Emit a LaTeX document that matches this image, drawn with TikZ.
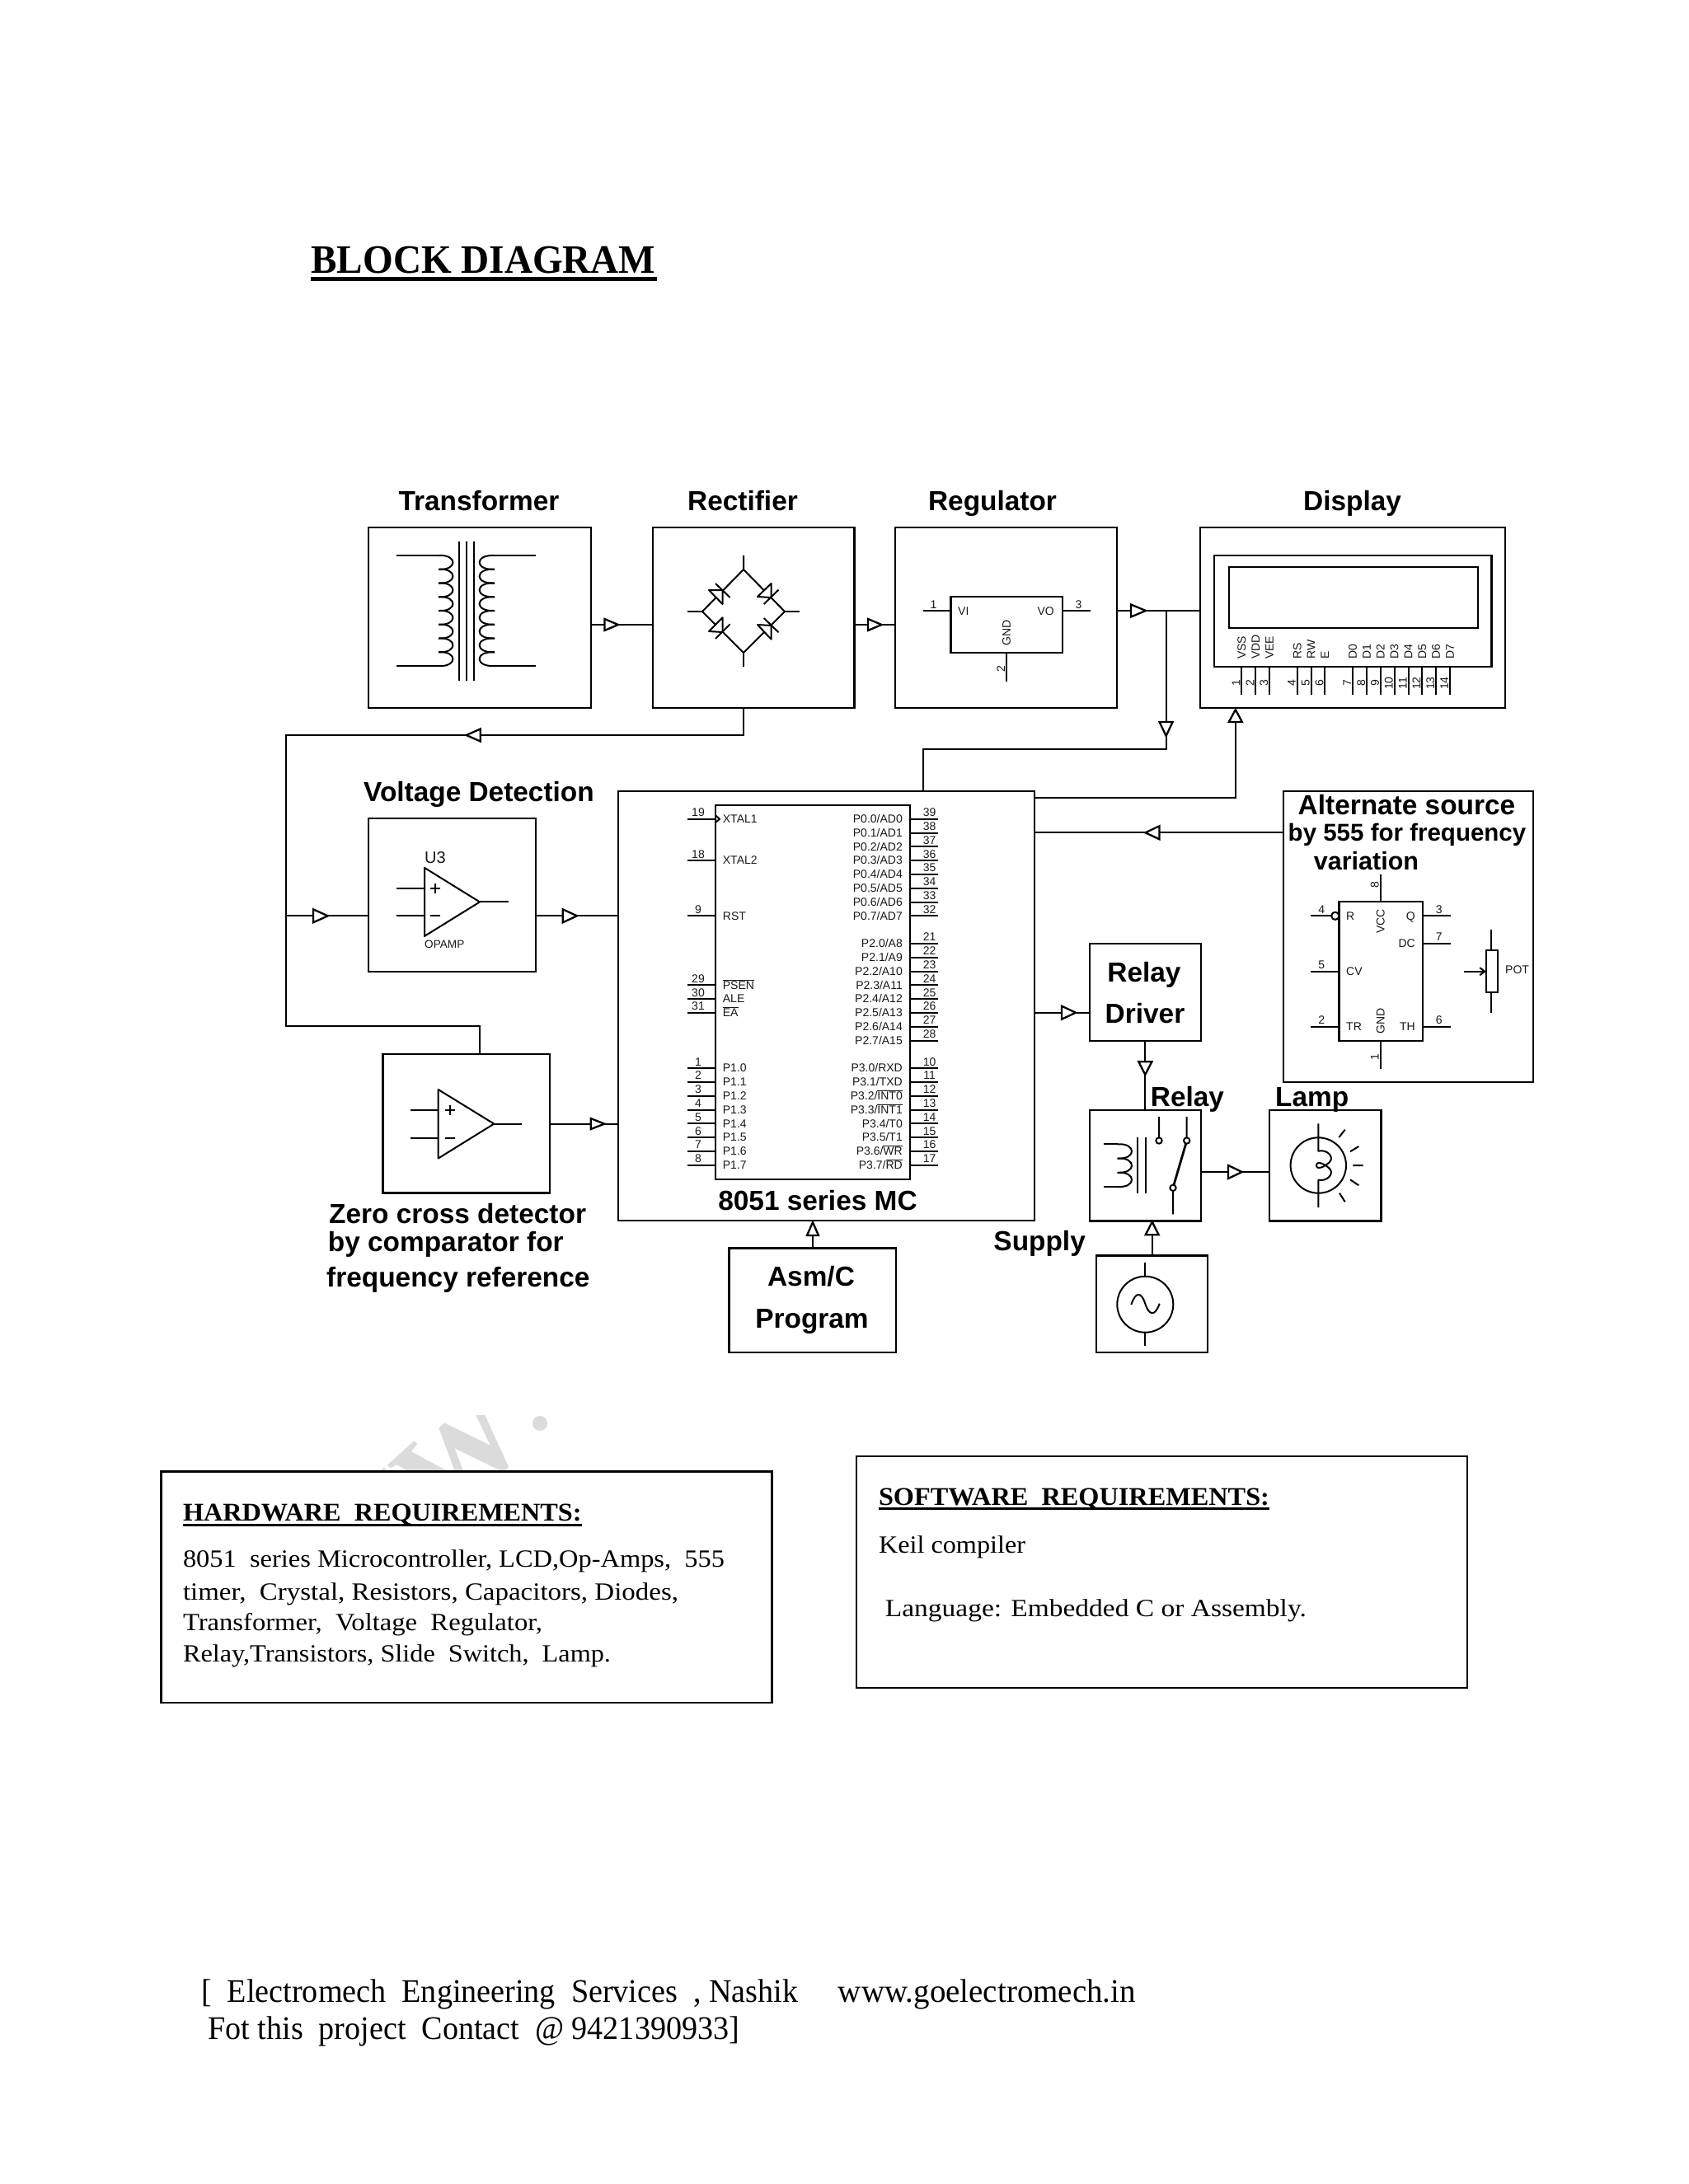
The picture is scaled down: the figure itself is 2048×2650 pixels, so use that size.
\documentclass[tikz,border=0pt]{standalone}
\usepackage{fontspec}
\usepackage{graphicx}
\usetikzlibrary{arrows.meta}
\setmainfont{Liberation Sans}
\newfontfamily\serifface{Liberation Serif}
\newcommand\fsz[1]{\fontsize{#1}{#1}\selectfont}
\newcommand\ovl[1]{$\overline{\hbox{#1}}$}
\newcommand\fitw[2]{\resizebox{#1pt}{\height}{#2}}
\newcommand\blk[5]{\node[blockbox,minimum width={(#4-#2)*1pt},minimum height={(#5-#3)*1pt},anchor=north west] (#1) at (#2,#3) {};}
\newcommand\htri[4]{\draw[marker] ({#1},{#3-#4}) -- ({#2},{#3}) -- ({#1},{#3+#4}) -- cycle;}
\newcommand\vtri[4]{\draw[marker] ({#1-#4},{#2}) -- ({#1},{#3}) -- ({#1+#4},{#2}) -- cycle;}
% coil of bumps: #1 cusp x, #2 control x, #3 top y, #4 pitch, #5 last index
\newcommand\coil[5]{\foreach \k in {0,...,#5}{\draw[thinl] (#1,{#3+#4*\k}) .. controls (#2,{#3+#4*\k-1.5}) and (#2,{#3+#4*(\k+1)+1.5}) .. (#1,{#3+#4*(\k+1)});}}
\tikzset{
  blockbox/.style={draw=black,line width=2.4pt,inner sep=0pt,outer sep=0pt,fill=none},
  chip/.style={draw=black,line width=2.2pt,inner sep=0pt,outer sep=0pt},
  conn/.style={draw=black,line width=2.2pt},
  thinl/.style={draw=black,line width=2pt,line join=round},
  marker/.style={draw=black,fill=white,line width=2.3pt,line join=miter},
  big/.style={font=\fsz{33.4}\bfseries,inner sep=0pt,anchor=base},
  pinl/.style={font=\fsz{14},inner sep=0pt,text=black!90},
  ser/.style={font=\serifface\fsz{30},inner sep=0pt,anchor=base west},
  serb/.style={font=\serifface\bfseries\fsz{31},inner sep=0pt,anchor=base west},
  foot/.style={font=\serifface\fsz{40},inner sep=0pt,anchor=base west},
}
\begin{document}
\begin{tikzpicture}[x=1pt,y=-1pt]
\useasboundingbox (0,0) rectangle (2048,2650);
\fill[white] (0,0) rectangle (2048,2650);

% title
\node[font=\serifface\bfseries\fsz{49},inner sep=0pt,anchor=base west] (title) at (377.3,331.7) {\fitw{418}{BLOCK DIAGRAM}};
\draw[line width=5pt] (377,338.7) -- (796.5,338.7);

% watermark (behind the hardware box)
\begin{scope}
\clip (420,1717) rectangle (670,1784);
\node[font=\serifface\bfseries\fsz{150},text=black!14,inner sep=0pt,rotate=42,anchor=base east] (wm) at (646,1752) {WW};
\fill[black!14] (655,1727) circle (9);
\end{scope}

% blocks
\blk{trans}{447}{640}{717}{859}
\blk{rect}{792}{640}{1036.5}{859}
\blk{reg}{1086}{640}{1355}{859}
\blk{disp}{1456}{640}{1826}{859}
\blk{vdet}{447}{993}{650}{1178.7}
\blk{zero}{464.3}{1278.8}{666.7}{1447.5}
\blk{mc}{750}{960}{1255}{1481}
\blk{alt}{1557}{960}{1860}{1312.7}
\blk{rdrv}{1321.7}{1144.7}{1456.7}{1262.7}
\blk{relay}{1321.7}{1346.7}{1456.7}{1481.3}
\blk{lamp}{1540}{1346.7}{1675.3}{1481.3}
\blk{supply}{1330}{1523.3}{1465}{1641}
\blk{asm}{884.3}{1514.3}{1086.7}{1641}

% block captions
\node[big] (lbtrans) at (581,619) {Transformer};
\node[big] (lbrect) at (901,619) {Rectifier};
\node[big] (lbreg) at (1204,619) {Regulator};
\node[big] (lbdisp) at (1640.6,619) {Display};
\node[big] (lbvdet) at (581,972.5) {Voltage Detection};
\node[big,anchor=base west] (lbz1) at (399,1484) {Zero cross detector};
\node[big,anchor=base west] (lbz2) at (397.7,1518.5) {by comparator for};
\node[big,anchor=base west] (lbz3) at (396,1561) {frequency reference};
\node[big] (lbmc) at (992,1468) {8051 series MC};
\node[big] (lbasm1) at (984,1560.7) {Asm/C};
\node[big] (lbasm2) at (985,1611.7) {Program};
\node[big,anchor=base east] (lbsup) at (1317,1517) {Supply};
\node[big] (lbdrv1) at (1388,1191) {Relay};
\node[big] (lbdrv2) at (1389,1241) {Driver};
\node[big,anchor=base west] (lbrel) at (1395.7,1342) {Relay};
\node[big,anchor=base west] (lblamp) at (1547,1342) {Lamp};
\node[big] (lbalt1) at (1706.5,988) {Alternate source};
\node[big,font=\fsz{29.5}\bfseries] (lbalt2) at (1707,1020.7) {by 555 for frequency};
\node[big,font=\fsz{30.5}\bfseries] (lbalt3) at (1657.5,1055) {variation};

% connectors
\coordinate (ya) at (0,758);
\coordinate (yb) at (0,741);
\coordinate (ret) at (901.7,892);
\coordinate (retl) at (346.7,892);
\coordinate (rets) at (346.7,1245.3);
\coordinate (retz) at (582.3,1245.3);
\coordinate (yv) at (0,1111.3);
\coordinate (yz) at (0,1363.6);
\coordinate (tap) at (1414.6,741);
\coordinate (tapb) at (1414.6,909);
\coordinate (mct) at (1120,909);
\coordinate (lcdl) at (1498.8,968.3);
\draw[conn] (trans.east |- ya) -- (rect.west |- ya);
\draw[conn] (rect.east |- ya) -- (reg.west |- ya);
\draw[conn] (reg.east |- yb) -- (disp.west |- yb);
\draw[conn] (tap) -- (tapb) -- (mct) -- (mct |- mc.north);
\draw[conn] (mc.east |- lcdl) -- (lcdl) -- (lcdl |- disp.south);
\draw[conn] (rect.south -| ret) -- (ret) -- (retl) -- (rets) -- (retz) -- (retz |- zero.north);
\draw[conn] (retl |- yv) -- (vdet.west |- yv);
\draw[conn] (vdet.east |- yv) -- (mc.west |- yv);
\draw[conn,line width=2pt] (zero.east |- yz) -- (mc.west |- yz);
\coordinate (ya1) at (0,1010.3);
\draw[conn] (alt.west |- ya1) -- (mc.east |- ya1);
\coordinate (yr) at (0,1228.7);
\draw[conn] (mc.east |- yr) -- (rdrv.west |- yr);
\coordinate (xr) at (1389.3,0);
\draw[conn] (rdrv.south -| xr) -- (relay.north -| xr);
\coordinate (yl) at (0,1422);
\draw[conn] (relay.east |- yl) -- (lamp.west |- yl);
\coordinate (xs) at (1397.7,0);
\draw[conn] (supply.north -| xs) -- (relay.south -| xs);
\coordinate (xa) at (986,0);
\draw[conn] (asm.north -| xa) -- (mc.south -| xa);

% arrow markers
\htri{733.4}{750}{758}{7}
\htri{1053}{1069.5}{758}{7}
\htri{1372}{1390}{741}{7.5}
\vtri{1414.6}{876}{893}{8}
\vtri{1498.8}{876}{861}{8}
\htri{582.7}{565.7}{892}{7.5}
\htri{380}{397.7}{1111.3}{8}
\htri{682.7}{700}{1111.3}{8}
\htri{716.7}{733.3}{1363.6}{6.5}
\htri{1406.5}{1389.4}{1010.3}{8}
\htri{1288}{1305}{1228.7}{8}
\vtri{1389.3}{1288.3}{1304}{8}
\htri{1490}{1506.7}{1422}{8}
\vtri{1397.7}{1498.3}{1482.5}{8}
\vtri{986}{1499}{1483}{7}

% transformer
\coil{532}{555.3}{674}{16.75}{7}
\coil{600}{575.5}{674}{16.75}{7}
\draw[thinl] (481,674) -- (532,674) (481,808) -- (532,808) (600,674) -- (650,674) (600,808) -- (650,808);
\draw[thinl] (557,657) -- (557,826) (565.5,657) -- (565.5,826) (574.5,657) -- (574.5,826);

% bridge rectifier
\draw[thinl] (902,674) -- (902,691) -- (952,742) -- (902,792) -- (852,742) -- (902,691);
\draw[thinl] (902,792) -- (902,809) (834,742) -- (852,742) (952,742) -- (969.5,742);
\draw[thinl,fill=white] (860,716) -- (876.5,733) -- (876.5,716) -- cycle;
\draw[thinl] (868,708) -- (885.6,725);
\draw[thinl,fill=white] (919,724) -- (935.6,708) -- (935.6,725) -- cycle;
\draw[thinl] (926.7,733) -- (944.5,715.6);
\draw[thinl,fill=white] (860,766) -- (876.5,749.3) -- (876.5,767) -- cycle;
\draw[thinl] (868,775) -- (885.6,757.3);
\draw[thinl,fill=white] (919,758) -- (935.6,775.7) -- (935.6,759) -- cycle;
\draw[thinl] (926.7,750) -- (944.5,767.3);

% regulator chip
\node[chip,minimum width=135.2pt,minimum height=68pt,anchor=north west] (lm) at (1153.4,724) {};
\draw[thinl] (lm.west |- yb) -- (1120,741) (lm.east |- yb) -- (1323,741);
\draw[thinl] (1221,792) -- (1221,826.7);
\node[pinl,anchor=base] (lm1) at (1132.4,738) {1};
\node[pinl,anchor=base] (lm3) at (1308.5,738) {3};
\node[pinl,anchor=base,rotate=90] (lm2) at (1219,812) {2};
\node[pinl,anchor=base west] (lmvi) at (1162,746) {VI};
\node[pinl,anchor=base east] (lmvo) at (1279,746) {VO};
\node[pinl,anchor=base,rotate=90] (lmg) at (1225.8,768) {GND};

% LCD
\node[chip,minimum width=336.5pt,minimum height=134.7pt,anchor=north west] (lcd) at (1473,674) {};
\node[chip,line width=2pt,minimum width=302.4pt,minimum height=74.3pt,anchor=north west] (lcds) at (1490.6,687.7) {};
\foreach \n/\px/\lab in {1/1506.4/VSS,2/1523.3/VDD,3/1540/VEE,4/1573.8/RS,5/1590.6/RW,6/1607.4/E,7/1641/D0,8/1658/D1,9/1674.8/D2,10/1691.6/D3,11/1708.5/D4,12/1725.3/D5,13/1742/D6,14/1759/D7}{
  \draw[thinl] (\px,808.7) -- (\px,842.7);
  \node[pinl,anchor=base west,rotate=90] (lcl\n) at ({\px+4.8},800) {\lab};
  \node[pinl,anchor=base,rotate=90] (lcn\n) at ({\px-2},829) {\n};
}

% op amps
\draw[thinl] (515,1052.9) -- (515,1135.9) -- (582,1094.4) -- cycle;
\draw[thinl] (481,1077.9) -- (515,1077.9) (481,1111.3) -- (515,1111.3) (582,1094.4) -- (616.7,1094.4);
\draw[thinl] (522,1077.9) -- (534,1077.9) (528,1072) -- (528,1084) (522,1111.3) -- (534,1111.3);
\node[font=\fsz{20},inner sep=0pt,anchor=base west,text=black!90] (u3) at (515,1047) {U3};
\node[pinl,anchor=base west,font=\fsz{13.6}] (opa) at (515,1150.5) {OPAMP};
\draw[thinl] (531.7,1322) -- (531.7,1405.5) -- (599.3,1363.6) -- cycle;
\draw[thinl] (497.7,1346.6) -- (531.7,1346.6) (497.7,1380.5) -- (531.7,1380.5) (599.3,1363.6) -- (633.3,1363.6);
\draw[thinl] (539.7,1346.6) -- (551.7,1346.6) (545.7,1340.6) -- (545.7,1352.6) (539.7,1380.5) -- (551.7,1380.5);

% 8051
\node[chip,minimum width=235.9pt,minimum height=454.3pt,anchor=north west] (ic) at (867.7,976.7) {};
\draw[thinl] (868,989.5) -- (873,993.7) -- (868,998);
\foreach \i/\n/\t in {0/19/XTAL1,3/18/XTAL2,7/9/RST,12/29/\ovl{PSEN},13/30/ALE,14/31/\ovl{EA},18/1/P1.0,19/2/P1.1,20/3/P1.2,21/4/P1.3,22/5/P1.4,23/6/P1.5,24/7/P1.6,25/8/P1.7}{
  \draw[thinl] (ic.west |- 0,{993.7+16.8*\i}) -- (834,{993.7+16.8*\i});
  \node[pinl,anchor=base west] (icl\n) at (876.7,{993.7+16.8*\i+4.8}) {\t};
  \node[pinl,anchor=base] (icn\n) at (847,{993.7+16.8*\i-3}) {\n};
}
\foreach \i/\n/\t in {0/39/{P0.0/AD0},1/38/{P0.1/AD1},2/37/{P0.2/AD2},3/36/{P0.3/AD3},4/35/{P0.4/AD4},5/34/{P0.5/AD5},6/33/{P0.6/AD6},7/32/{P0.7/AD7},9/21/{P2.0/A8},10/22/{P2.1/A9},11/23/{P2.2/A10},12/24/{P2.3/A11},13/25/{P2.4/A12},14/26/{P2.5/A13},15/27/{P2.6/A14},16/28/{P2.7/A15},18/10/{P3.0/RXD},19/11/{P3.1/TXD},20/12/{P3.2/\ovl{INT0}},21/13/{P3.3/\ovl{INT1}},22/14/{P3.4/T0},23/15/{P3.5/T1},24/16/{P3.6/\ovl{WR}},25/17/{P3.7/\ovl{RD}}}{
  \draw[thinl] (ic.east |- 0,{993.7+16.8*\i}) -- (1137.7,{993.7+16.8*\i});
  \node[pinl,anchor=base east] (icl\n) at (1095,{993.7+16.8*\i+4.8}) {\t};
  \node[pinl,anchor=base] (icn\n) at (1127.7,{993.7+16.8*\i-3}) {\n};
}

% 555
\node[chip,minimum width=101.5pt,minimum height=168.4pt,anchor=north west] (tm) at (1624.5,1094.3) {};
\draw[thinl] (1590,1111.3) -- (1615,1111.3);
\draw[thinl] (1619.8,1111.3) circle (4.6);
\draw[thinl] (1590,1178.7) -- (1624.5,1178.7) (1590,1245.7) -- (1624.5,1245.7);
\draw[thinl] (1726,1111.3) -- (1759.6,1111.3) (1726,1144.7) -- (1759.6,1144.7) (1726,1245.7) -- (1759.6,1245.7);
\draw[thinl] (1674.7,1061) -- (1674.7,1094.3) (1674.7,1262.7) -- (1674.7,1296.7);
\foreach \n/\px/\py in {4/1603.3/1108,5/1603.3/1175,2/1603.3/1242,3/1745.7/1108,7/1745.7/1141,6/1745.7/1242}{
  \node[pinl,anchor=base] (tn\n) at (\px,\py) {\n};
}
\node[pinl,anchor=base,rotate=90] (tn8) at (1672.7,1073.7) {8};
\node[pinl,anchor=base,rotate=90] (tn1) at (1672.7,1283) {1};
\node[pinl,anchor=base west] (tr) at (1633,1116) {R};
\node[pinl,anchor=base east] (tq) at (1717,1116) {Q};
\node[pinl,anchor=base east] (tdc) at (1717,1149.5) {DC};
\node[pinl,anchor=base west] (tcv) at (1633,1183.5) {CV};
\node[pinl,anchor=base west] (ttr) at (1633,1250.5) {TR};
\node[pinl,anchor=base east] (tth) at (1717,1250.5) {TH};
\node[pinl,anchor=base,rotate=90] (tvcc) at (1679.5,1117.7) {VCC};
\node[pinl,anchor=base,rotate=90] (tgnd) at (1679.5,1239) {GND};
\node[chip,minimum width=13.8pt,minimum height=51.3pt,anchor=north west] (pot) at (1802.9,1152.7) {};
\draw[thinl] (1809.4,1127.7) -- (1809.4,1152.7) (1809.4,1204) -- (1809.4,1229.3);
\draw[thinl,-{Straight Barb[length=6pt,width=9pt]}] (1776,1178.7) -- (1802.9,1178.7);
\node[pinl,anchor=base west] (potl) at (1826,1181.5) {POT};

% relay
\coil{1355.7}{1378.8}{1388.3}{17.23}{2}
\draw[thinl] (1338.7,1388.3) -- (1355.7,1388.3) (1338.7,1440) -- (1355.7,1440);
\draw[thinl] (1380,1380) -- (1380,1448.3) (1390,1380) -- (1390,1448.3);
\draw[thinl] (1406,1355) -- (1406,1380.3) (1406,1384) circle (3.7);
\draw[thinl] (1439.7,1355) -- (1439.7,1380.3) (1439.7,1384) circle (3.7);
\draw[line width=2.8pt] (1424,1437.7) -- (1438.7,1387.6);
\draw[thinl] (1423,1441.3) circle (3.7) (1423,1445) -- (1423,1473.3);

% lamp
\draw[thinl] (1599.3,1414) circle (33.7);
\draw[thinl] (1599.3,1363.3) -- (1599.3,1396.7) .. controls (1610,1394) and (1619,1404) .. (1613,1410) .. controls (1607,1416) and (1597,1420) .. (1597,1414) .. controls (1597,1408) and (1607,1412) .. (1613,1418) .. controls (1619,1424) and (1610,1434) .. (1599.3,1431.7) -- (1599.3,1465);
\draw[thinl] (1624.3,1380) -- (1631.7,1370.7) (1638,1397.3) -- (1648.3,1391) (1641.3,1414) -- (1653.7,1414) (1638,1431.3) -- (1648.3,1438.3) (1625,1447.7) -- (1631.7,1458.3);

% AC source
\draw[thinl] (1389.3,1582.7) circle (34);
\draw[thinl] (1389.3,1531.7) -- (1389.3,1548.7) (1389.3,1616.7) -- (1389.3,1633.3);
\draw[thinl] (1372.3,1583) .. controls (1378,1566) and (1385,1568) .. (1389.3,1582) .. controls (1394,1596) and (1401,1598) .. (1406.7,1581.7);

% requirements boxes
\blk{hw}{195.3}{1785.3}{936.6}{2066}
\blk{sw}{1039}{1766.7}{1779.7}{2047.7}
\node[serb] (hw0) at (221.8,1845.7) {\fitw{483.7}{HARDWARE\ \ REQUIREMENTS:}};
\draw[line width=3pt] (221.8,1850) -- (705.5,1850);
\node[ser] (hw1) at (221.8,1901) {\fitw{657}{8051\ \ series Microcontroller, LCD,Op-Amps,\ \ 555}};
\node[ser] (hw2) at (221.8,1941.7) {\fitw{601}{timer,\ \ Crystal, Resistors, Capacitors, Diodes,}};
\node[ser] (hw3) at (221.8,1978) {\fitw{436}{Transformer,\ \ Voltage\ \ Regulator,}};
\node[ser] (hw4) at (221.8,2016.7) {\fitw{519}{Relay,Transistors, Slide\ \ Switch,\ \ Lamp.}};
\node[serb] (sw0) at (1065.8,1826.7) {\fitw{474}{SOFTWARE\ \ REQUIREMENTS:}};
\draw[line width=3pt] (1065.8,1830) -- (1540,1830);
\node[ser] (sw1) at (1065.8,1884) {\fitw{178}{Keil compiler}};
\node[ser] (sw2) at (1073.7,1961.7) {\fitw{511}{Language: Embedded C or Assembly.}};

% footer
\node[foot] (f1) at (244,2429) {\fitw{724}{[\ \ Electromech\ \ Engineering\ \ Services\ \ , Nashik}};
\node[foot] (f2) at (1016.7,2429) {\fitw{361}{www.goelectromech.in}};
\node[foot] (f3) at (252.3,2474) {\fitw{644.4}{Fot this\ \ project\ \ Contact\ \ @ 9421390933]}};
\end{tikzpicture}
\end{document}
